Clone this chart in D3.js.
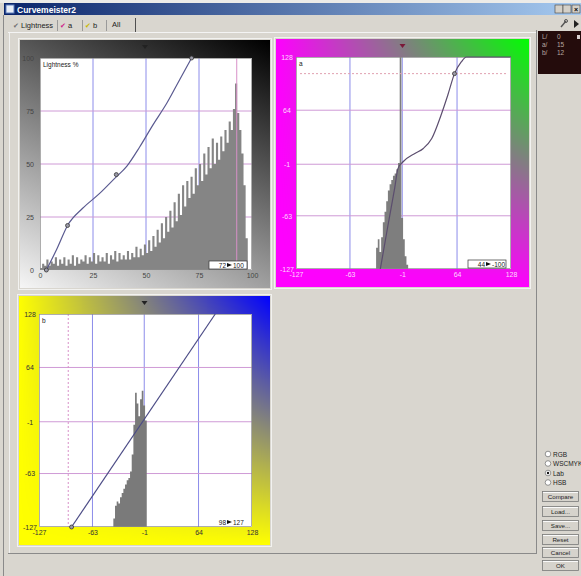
<!DOCTYPE html>
<html>
<head>
<meta charset="utf-8">
<script src="https://cdn.jsdelivr.net/npm/d3@7"></script>
<style>
  html, body { margin: 0; padding: 0; background: #d9d6cf; overflow: hidden; }
  svg { display: block; font-family: "Liberation Sans", Arial, sans-serif; }
</style>
</head>
<body>
<svg id="chart"></svg>
<script>
// ---------- data ----------
let lightTicks = [0, 25, 50, 75, 100];
let lightTickLabels = ["0", "25", "50", "75", "100"];
let abTicks = [-127, -63, -1, 64, 128];
let abTickLabels = ["-127", "-63", "-1", "64", "128"];

// lightness histogram, one bin per L unit (0..99), % of plot height
let lightHist = [
  1, 3, 2, 5, 2, 4, 3, 6, 2, 5,
  3, 6, 2, 5, 3, 7, 2, 6, 3, 5,
  4, 7, 3, 6, 4, 8, 3, 7, 4, 6,
  4, 8, 3, 7, 5, 9, 4, 8, 5, 7,
  5, 9, 5, 8, 6, 11, 6, 10, 7, 12,
  8, 14, 9, 16, 11, 19, 13, 22, 15, 25,
  18, 28, 20, 32, 23, 36, 26, 40, 30, 42,
  34, 44, 36, 48, 40, 50, 42, 55, 45, 58,
  48, 62, 50, 60, 52, 63, 56, 66, 60, 70,
  66, 76, 88, 74, 66, 55, 40, 15, 0, 0
];

// a histogram (bins of 2)
let aHistX = [-34, -32, -30, -28, -26, -24, -22, -20, -18, -16, -14, -12, -10, -8, -6, -4, -2, 0, 2, 4];
let aHistY = [0, 10, 14, 8, 15, 22, 27, 32, 37, 40, 42, 44, 45, 47, 50, 100, 24, 14, 6, 2];

// b histogram (bins of 2)
let bHistX = [-40, -38, -36, -34, -32, -30, -28, -26, -24, -22, -20, -18, -16, -14, -12, -10, -8, -6, -4, -2, 0];
let bHistY = [0, 4, 10, 12, 11, 14, 16, 18, 20, 22, 23, 26, 34, 48, 63, 58, 52, 60, 64, 57, 50];

// curves
let lightCurveX = [3, 8, 13, 20, 28, 35, 41, 47, 53, 60, 66, 71.5];
let lightCurveY = [0, 10, 21, 29, 36, 43, 49, 58, 68, 79, 90, 100];
let lightPointsX = [3, 13, 36, 71.5];
let lightPointsY = [0, 21, 45, 100];

let aCurveX = [-27, -18, -10, -6, 0, 14, 24, 34, 45, 53, 61, 69, 75, 128];
let aCurveY = [-127, -75, -30, -6, 2, 12, 18, 30, 58, 82, 108, 122, 128, 128];
let aPointsX = [61];
let aPointsY = [108];

let bCurveX = [-88, 84];
let bCurveY = [-127, 128];
let bPointsX = [-88];
let bPointsY = [-127];

// ---------- setup ----------
let width = 581;
let height = 576;
let bg = "#d9d6cf";

let svg = d3.select("#chart").attr("width", width).attr("height", height);
let defs = svg.append("defs");

svg.append("rect").attr("width", width).attr("height", height).attr("fill", bg);

let addLinear = (id, x1, y1, x2, y2, stops) => {
  let g = defs.append("linearGradient").attr("id", id)
    .attr("x1", x1).attr("y1", y1).attr("x2", x2).attr("y2", y2);
  stops.forEach((s) => {
    g.append("stop").attr("offset", s[0]).attr("stop-color", s[1])
      .attr("stop-opacity", s[2] == null ? 1 : s[2]);
  });
};

addLinear("gL", 0, 1, 0.64, -0.19, [[0, "#f6f6f6"], [1, "#000000"]]);
addLinear("fadeXa", 0, 0, 1, 0, [[0, "#00ff00", 0], [1, "#00ff00", 1]]);
addLinear("fadeXb", 0, 0, 1, 0, [[0, "#0000ff", 0], [1, "#0000ff", 1]]);
addLinear("fadeY", 0, 0, 0, 1, [[0, "#ffffff", 1], [1, "#ffffff", 0]]);
addLinear("title", 0, 0, 1, 0, [[0, "#0a246a"], [1, "#a6caf0"]]);
defs.append("mask").attr("id", "maskY").attr("maskContentUnits", "objectBoundingBox")
  .append("rect").attr("width", 1).attr("height", 1).attr("fill", "url(#fadeY)");

// ---------- window chrome ----------
let drawChrome = () => {
  svg.append("rect").attr("x", 0).attr("y", 0).attr("width", width).attr("height", 3).attr("fill", "#ecebe8");
  svg.append("rect").attr("x", 4).attr("y", 3).attr("width", width - 4).attr("height", 12).attr("fill", "url(#title)");
  svg.append("rect").attr("x", 6).attr("y", 5).attr("width", 8).attr("height", 8).attr("fill", "#e8eef8").attr("stroke", "#6080c0");
  svg.append("text").attr("x", 17).attr("y", 12.5).attr("fill", "#fff")
    .style("font-size", "8.5px").style("font-weight", "bold").text("Curvemeister2");
  [555, 563, 572].forEach((x) => {
    svg.append("rect").attr("x", x).attr("y", 5).attr("width", 8).attr("height", 8)
      .attr("fill", "#d4d0c8").attr("stroke", "#404040").attr("stroke-width", 0.6);
  });
  svg.append("text").attr("x", 576).attr("y", 11.5).attr("text-anchor", "middle")
    .style("font-size", "7px").style("font-weight", "bold").text("×");

  // window left border
  svg.append("line").attr("x1", 3.5).attr("x2", 3.5).attr("y1", 15).attr("y2", height).attr("stroke", "#8a8a8a");

  // tabs
  let tabs = [
    { x: 13, label: "Lightness", check: "#707070" },
    { x: 60, label: "a", check: "#d0208a" },
    { x: 85, label: "b", check: "#c8b800" }
  ];
  tabs.forEach((t) => {
    svg.append("text").attr("x", t.x).attr("y", 28).attr("fill", t.check)
      .style("font-family", "DejaVu Sans").style("font-size", "7px").text("✔");
    svg.append("text").attr("x", t.x + 8).attr("y", 28).attr("fill", "#222")
      .style("font-size", "7.5px").text(t.label);
  });
  [57.5, 82.5, 106.5].forEach((x) => {
    svg.append("line").attr("x1", x).attr("x2", x).attr("y1", 20).attr("y2", 31).attr("stroke", "#9a9a9a");
  });
  svg.append("text").attr("x", 112).attr("y", 27).attr("fill", "#222").style("font-size", "7.5px").text("All");
  svg.append("line").attr("x1", 135.5).attr("x2", 135.5).attr("y1", 18).attr("y2", 32).attr("stroke", "#505050");

  // content frame
  svg.append("line").attr("x1", 8).attr("x2", 537).attr("y1", 32.5).attr("y2", 32.5).attr("stroke", "#f4f4f4");
  svg.append("line").attr("x1", 8).attr("x2", 537).attr("y1", 553.5).attr("y2", 553.5).attr("stroke", "#8a8a8a");
  svg.append("line").attr("x1", 9.5).attr("x2", 9.5).attr("y1", 33).attr("y2", 553).attr("stroke", "#f0f0f0");
  svg.append("line").attr("x1", 536.5).attr("x2", 536.5).attr("y1", 30).attr("y2", 554).attr("stroke", "#8a8a8a");

  // icons top right
  svg.append("line").attr("x1", 561).attr("y1", 27).attr("x2", 566).attr("y2", 21).attr("stroke", "#555").attr("stroke-width", 1.4);
  svg.append("circle").attr("cx", 566).attr("cy", 21).attr("r", 1.5).attr("fill", "none").attr("stroke", "#555");
  svg.append("path").attr("d", "M574,20 L579,24 L574,28 Z").attr("fill", "#222");

  // info box
  svg.append("rect").attr("x", 538).attr("y", 31).attr("width", 43).attr("height", 43).attr("fill", "#240c0c");
  [["L/", "0", 39], ["a/", "15", 47], ["b/", "12", 55]].forEach((r) => {
    svg.append("text").attr("x", 542).attr("y", r[2]).attr("fill", "#b8a8a0").style("font-size", "6.5px").text(r[0]);
    svg.append("text").attr("x", 557).attr("y", r[2]).attr("fill", "#b8a8a0").style("font-size", "6.5px").text(r[1]);
  });
  svg.append("rect").attr("x", 577).attr("y", 35).attr("width", 3).attr("height", 4).attr("fill", "#d8d0d0");

  // mode radios
  let modes = ["RGB", "WSCMYK", "Lab", "HSB"];
  modes.forEach((m, i) => {
    let y = 454 + i * 9.5;
    svg.append("circle").attr("cx", 548).attr("cy", y).attr("r", 2.8)
      .attr("fill", "#fff").attr("stroke", "#7a7a7a").attr("stroke-width", 0.8);
    if (m === "Lab") {
      svg.append("circle").attr("cx", 548).attr("cy", y).attr("r", 1.2).attr("fill", "#111");
    }
    svg.append("text").attr("x", 553).attr("y", y + 2.5).attr("fill", "#222").style("font-size", "6.5px").text(m);
  });

  // push buttons
  let buttons = ["Compare", "Load...", "Save...", "Reset", "Cancel", "OK"];
  let buttonY = [491, 506, 520, 534, 547, 560];
  buttons.forEach((b, i) => {
    let y = buttonY[i];
    svg.append("rect").attr("x", 542.5).attr("y", y + 0.5).attr("width", 36).attr("height", 10)
      .attr("fill", "#d6d3cc").attr("stroke", "#7a7a7a").attr("stroke-width", 0.8);
    svg.append("line").attr("x1", 543).attr("x2", 578).attr("y1", y + 1.5).attr("y2", y + 1.5).attr("stroke", "#fafafa");
    svg.append("text").attr("x", 560.5).attr("y", y + 8).attr("text-anchor", "middle")
      .attr("fill", "#222").style("font-size", "6.2px").text(b);
  });
};

// ---------- curve panels ----------
let panels = [
  {
    x: 40, y: 58, w: 212, h: 212, domain: [0, 100],
    ticks: lightTicks, labels: lightTickLabels, labelColor: "#444", labelAnchor: "end",
    frame: "L", marker: "#222", name: "Lightness %",
    histX: lightHist.map((v, i) => i), histY: lightHist, binW: 1, histColor: "#858585",
    curveX: lightCurveX, curveY: lightCurveY, ptsX: lightPointsX, ptsY: lightPointsY,
    curveColor: "#5a5a90", probe: { dir: "v", value: 92.8, dash: null },
    box: { from: "72", to: "100", boxed: true }
  },
  {
    x: 296, y: 57, w: 215, h: 212, domain: [-127, 128],
    ticks: abTicks, labels: abTickLabels, labelColor: "#ffd8ff", labelAnchor: "middle",
    frame: "a", marker: "#7a1838", name: "a",
    histX: aHistX, histY: aHistY, binW: 2, histColor: "#7e7e7e",
    curveX: aCurveX, curveY: aCurveY, ptsX: aPointsX, ptsY: aPointsY,
    curveColor: "#5b4d6e", probe: { dir: "h", value: 108, dash: "2,2" },
    box: { from: "44", to: "-100", boxed: true }
  },
  {
    x: 39, y: 314, w: 213, h: 213, domain: [-127, 128],
    ticks: abTicks, labels: abTickLabels, labelColor: "#333", labelAnchor: "middle",
    frame: "b", marker: "#222", name: "b",
    histX: bHistX, histY: bHistY, binW: 2, histColor: "#7a7a7a",
    curveX: bCurveX, curveY: bCurveY, ptsX: bPointsX, ptsY: bPointsY,
    curveColor: "#4c4c86", probe: { dir: "v", value: -92, dash: "2,2" },
    box: { from: "98", to: "127", boxed: false }
  }
];

let drawPanel = (p) => {
  let g = svg.append("g");
  let fx = p.x - 20, fy = p.y - 18, fw = p.w + 38, fh = p.h + 36;

  // coloured frame
  if (p.frame === "L") {
    g.append("rect").attr("x", fx).attr("y", fy).attr("width", fw).attr("height", fh).attr("fill", "url(#gL)");
  } else {
    let base = p.frame === "a" ? "#ff00ff" : "#ffff00";
    g.append("rect").attr("x", fx).attr("y", fy).attr("width", fw).attr("height", fh).attr("fill", base);
    g.append("rect").attr("x", fx).attr("y", fy).attr("width", fw).attr("height", fh)
      .attr("fill", p.frame === "a" ? "url(#fadeXa)" : "url(#fadeXb)").attr("mask", "url(#maskY)");
  }
  g.append("rect").attr("x", fx - 1.5).attr("y", fy - 1.5).attr("width", fw + 3).attr("height", fh + 3)
    .attr("fill", "none").attr("stroke", "#f2f2f0").attr("stroke-width", 1);
  g.append("path")
    .attr("d", `M${fx + fw / 2 - 3},${fy + 5} L${fx + fw / 2 + 3},${fy + 5} L${fx + fw / 2},${fy + 9} Z`)
    .attr("fill", p.marker);

  // plot area
  g.append("rect").attr("x", p.x).attr("y", p.y).attr("width", p.w).attr("height", p.h).attr("fill", "#ffffff");

  let xScale = d3.scaleLinear().domain(p.domain).range([p.x, p.x + p.w]);
  let yScale = d3.scaleLinear().domain(p.domain).range([p.y + p.h, p.y]);
  let hScale = d3.scaleLinear().domain([0, 100]).range([p.y + p.h, p.y]);

  // grid
  let inner = p.ticks.slice(1, -1);
  g.selectAll(".vgrid").data(inner).enter().append("line")
    .attr("x1", (d) => xScale(d)).attr("x2", (d) => xScale(d))
    .attr("y1", p.y).attr("y2", p.y + p.h)
    .attr("stroke", "#8c8cea").attr("stroke-width", 1);
  g.selectAll(".hgrid").data(inner).enter().append("line")
    .attr("y1", (d) => yScale(d)).attr("y2", (d) => yScale(d))
    .attr("x1", p.x).attr("x2", p.x + p.w)
    .attr("stroke", "#cf9ad6").attr("stroke-width", 1);

  // histogram as one stepped area
  let histPts = p.histY.map((d, i) => [p.histX[i], d]);
  histPts.push([p.histX[p.histX.length - 1] + p.binW, 0]);
  let area = d3.area()
    .x((d) => xScale(d[0]))
    .y0(hScale(0))
    .y1((d) => hScale(d[1]))
    .curve(d3.curveStepAfter);
  g.append("path").datum(histPts).attr("d", area).attr("fill", p.histColor);

  // probe line
  if (p.probe.dir === "v") {
    g.append("line").attr("x1", xScale(p.probe.value)).attr("x2", xScale(p.probe.value))
      .attr("y1", p.y).attr("y2", p.y + p.h)
      .attr("stroke", "#d890c8").attr("stroke-dasharray", p.probe.dash);
  } else {
    g.append("line").attr("y1", yScale(p.probe.value)).attr("y2", yScale(p.probe.value))
      .attr("x1", p.x + 4).attr("x2", p.x + p.w - 4)
      .attr("stroke", "#e0a0b0").attr("stroke-dasharray", p.probe.dash);
  }

  // plot border
  g.append("rect").attr("x", p.x + 0.5).attr("y", p.y + 0.5).attr("width", p.w - 1).attr("height", p.h - 1)
    .attr("fill", "none").attr("stroke", "#8a8a8a").attr("stroke-width", 0.7);

  // curve
  let line = d3.line()
    .x((d, i) => xScale(p.curveX[i]))
    .y((d, i) => yScale(p.curveY[i]))
    .curve(d3.curveMonotoneX);
  g.append("path").datum(p.curveX).attr("d", line)
    .attr("fill", "none").attr("stroke", p.curveColor).attr("stroke-width", 1.2);
  g.selectAll(".pt").data(p.ptsX).enter().append("circle")
    .attr("cx", (d) => xScale(d)).attr("cy", (d, i) => yScale(p.ptsY[i]))
    .attr("r", 2).attr("fill", "#9a9aa8").attr("stroke", "#333").attr("stroke-width", 0.8);

  // axes (labels only, sitting in the coloured frame)
  let leftAxis = d3.axisLeft(yScale).tickValues(p.ticks)
    .tickFormat((d, i) => p.labels[i]).tickSize(0)
    .tickPadding(p.labelAnchor === "end" ? 6 : 9);
  let ga = g.append("g").attr("transform", `translate(${p.x},0)`).call(leftAxis);
  ga.select(".domain").remove();
  ga.selectAll("text").attr("fill", p.labelColor).attr("text-anchor", p.labelAnchor)
    .style("font-size", "7px").style("font-family", "Liberation Sans, Arial, sans-serif");

  let bottomAxis = d3.axisBottom(xScale).tickValues(p.ticks)
    .tickFormat((d, i) => p.labels[i]).tickSize(0).tickPadding(3);
  let gb = g.append("g").attr("transform", `translate(0,${p.y + p.h})`).call(bottomAxis);
  gb.select(".domain").remove();
  gb.selectAll("text").attr("fill", p.labelColor)
    .style("font-size", "7px").style("font-family", "Liberation Sans, Arial, sans-serif");

  // channel name
  g.append("text").attr("x", p.x + 3).attr("y", p.y + 9).attr("fill", "#222")
    .style("font-size", "6.5px").text(p.name);

  // in/out readout box
  let bx = p.x + p.w - 43, by = p.y + p.h - 9;
  if (p.box.boxed) {
    g.append("rect").attr("x", bx).attr("y", by).attr("width", 38).attr("height", 8)
      .attr("fill", "#fff").attr("stroke", "#333").attr("stroke-width", 0.7);
  }
  g.append("text").attr("x", bx + 17).attr("y", by + 6.5).attr("text-anchor", "end")
    .attr("fill", "#222").style("font-size", "6.5px").text(p.box.from);
  g.append("path").attr("d", `M${bx + 18},${by + 2} L${bx + 23},${by + 4} L${bx + 18},${by + 6} Z`).attr("fill", "#111");
  g.append("text").attr("x", bx + 24).attr("y", by + 6.5)
    .attr("fill", "#222").style("font-size", "6.5px").text(p.box.to);
};

drawChrome();
panels.forEach(drawPanel);
</script>
</body>
</html>
